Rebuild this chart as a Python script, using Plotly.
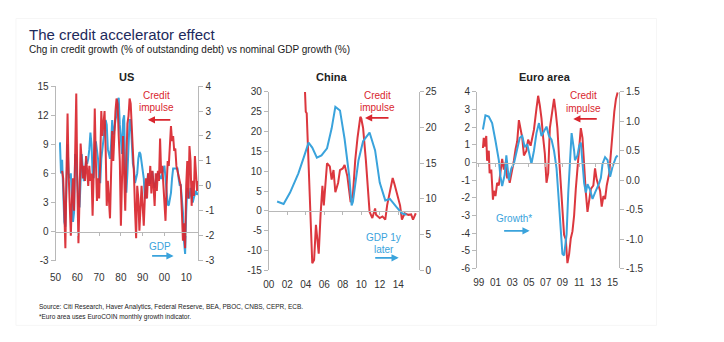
import plotly.graph_objects as go

# ---------------- DATA ----------------
# US: nominal GDP growth (left axis, %), credit impulse (right axis)
us_gdp_x = [1952.0 + 0.5 * i for i in range(128)]
us_gdp_y = [9.2, 6.0, 7.4, 5.0, 1.0, 0.5, 6.5, 9.0, 6.0, 5.5, 6.0, 4.0, 1.0, 2.0, 8.0, 7.5,
            5.5, 3.0, 2.5, 6.0, 8.0, 6.5, 5.2, 6.0, 7.3, 7.0, 7.5, 8.5, 10.2, 9.0, 6.0, 5.5,
            8.5, 9.3, 8.5, 7.5, 5.5, 5.0, 7.5, 8.5, 9.0, 10.0, 11.5, 11.0, 8.5, 8.0, 7.5, 9.0,
            11.5, 10.0, 10.5, 11.5, 12.0, 13.5, 13.8, 11.0, 9.5, 8.0, 11.5, 12.0, 6.0, 4.0, 6.0, 9.5,
            11.5, 11.5, 8.5, 7.0, 6.5, 5.0, 5.5, 6.0, 7.5, 8.2, 8.0, 7.0, 6.0, 5.5, 3.5, 3.5,
            5.0, 6.0, 5.0, 5.0, 5.8, 6.2, 5.0, 4.5, 5.0, 5.8, 6.0, 6.0, 5.5, 5.5, 6.0, 6.5,
            6.8, 5.5, 4.0, 2.8, 2.7, 3.5, 4.0, 5.5, 6.5, 6.5, 6.5, 6.5, 6.5, 5.5, 4.8, 4.8,
            3.5, 2.0, -1.0, -2.3, 2.0, 4.5, 3.5, 3.5, 4.5, 3.5, 3.0, 3.5, 3.8, 4.2, 3.8, 4.0]
us_ci_x = [1953.0 + 0.5 * i for i in range(126)]
us_ci_y = [0.6, 0.3, -1.0, -2.5, 0.5, 2.9, 0.5, -1.0, -2.0, -0.5, 0.3, -1.0, 1.5, 3.7, 0.0, -2.3,
           -0.5, 1.7, 1.0, 0.3, 0.8, 0.2, 1.2, 0.5, 0.0, 0.8, 0.2, 0.5, -1.2, 0.5, 3.1, 1.0,
           -0.6, 0.3, -0.5, 1.0, 3.0, 2.0, 2.5, 3.0, 1.5, -0.8, 0.2, -0.9, -1.3, 0.5, 2.2, 1.0,
           2.5, 3.0, 3.5, 3.3, 2.0, 1.0, -1.6, 0.5, 2.0, 0.5, -1.0, 1.0, 2.5, 2.8, 3.5, 3.3,
           2.5, 1.5, 0.5, -1.0, -2.1, 0.0, -0.5, -1.8, -0.5, 0.0, -0.8, -1.6, -0.5, 0.3, -0.5, 0.5,
           0.0, 0.8, -0.3, 0.6, 0.0, -0.8, 0.5, -0.2, 0.6, 0.2, 1.9, 0.5, 0.8, 0.0, -0.6, -1.4,
           0.0, 1.0, 0.8, 1.5, 2.4, 1.8, 2.0, 1.4, 1.5, 0.8, 0.6, 0.5, 0.3, 0.0, -1.0, -2.2,
           -1.5, -2.5, 0.0, 1.0, -0.5, 1.6, 1.0, -0.8, 0.2, -0.4, 1.2, 0.5, -0.2, 0.2]

# China: credit impulse (left axis), GDP growth 1y later (right axis)
cn_ci_x = [2003.9, 2004.0, 2004.1, 2004.3, 2004.5, 2004.7, 2004.9, 2005.1, 2005.3, 2005.4,
           2005.6, 2005.8, 2005.95, 2006.1, 2006.3, 2006.6, 2006.8, 2007.0, 2007.2, 2007.5,
           2007.7, 2008.0, 2008.2, 2008.5, 2008.7, 2008.85, 2009.1, 2009.35, 2009.6, 2009.9,
           2010.0, 2010.2, 2010.5, 2010.7, 2010.9, 2011.2, 2011.5, 2011.6, 2012.0, 2012.3,
           2012.6, 2012.8, 2013.1, 2013.4, 2013.6, 2013.9, 2014.2, 2014.4, 2014.7, 2015.1,
           2015.4, 2015.6, 2015.9]
cn_ci_y = [31.0, 25.0, 24.6, 12.8, 0.6, -13.2, -12.4, -3.5, -8.3, -10.8,
           -1.0, 6.3, 1.4, 6.3, 12.0, 11.2, 7.9, 10.3, 4.7, 7.1,
           10.3, 10.7, 11.6, 8.7, 4.7, 2.2, 4.2, 12.8, 18.5, 23.7,
           23.3, 20.9, 12.8, 4.7, -0.2, -1.8, 0.6, -1.0, -1.8, -1.4,
           -2.2, 1.4, 4.7, 8.3, 6.7, 4.2, 1.4, -2.2, -0.6, -1.0,
           -0.9, -2.2, -0.6]
cn_gdp_x = [2000.9, 2001.6, 2002.3, 2003.2, 2003.8, 2004.3, 2004.7, 2005.2, 2005.7, 2006.3,
            2006.8, 2007.2, 2007.7, 2008.2, 2008.7, 2008.96, 2009.1, 2009.7, 2010.2, 2010.9,
            2011.5, 2012.0, 2012.6, 2013.1, 2013.8, 2014.4, 2014.9]
cn_gdp_y = [9.65, 9.3, 10.9, 13.6, 15.9, 17.9, 17.2, 15.8, 16.1, 17.1,
            19.9, 22.9, 22.4, 18.4, 13.2, 9.1, 9.6, 15.4, 18.1, 19.3,
            16.8, 12.3, 9.8, 10.0, 8.9, 8.0, 7.8]

# Euro area: credit impulse (left axis), EuroCOIN growth (right axis)
eu_ci_x = [1999.5, 1999.6, 1999.7, 1999.9, 2000.0, 2000.2, 2000.3, 2000.5, 2000.7, 2000.8,
           2001.0, 2001.2, 2001.4, 2001.6, 2001.8, 2002.0, 2002.2, 2002.4, 2002.5, 2002.7,
           2002.9, 2003.2, 2003.4, 2003.6, 2003.8, 2004.0, 2004.2, 2004.4, 2004.7, 2004.9,
           2005.2, 2005.4, 2005.6, 2005.9, 2006.1, 2006.3, 2006.5, 2006.7, 2006.9, 2007.1,
           2007.3, 2007.5, 2007.8, 2008.0, 2008.2, 2008.4, 2008.6, 2008.8, 2009.0, 2009.2,
           2009.4, 2009.6, 2009.8, 2010.0, 2010.2, 2010.4, 2010.6, 2010.8, 2011.0, 2011.2,
           2011.4, 2011.6, 2011.8, 2012.0, 2012.2, 2012.4, 2012.7, 2012.9, 2013.1, 2013.3,
           2013.5, 2013.7, 2013.9, 2014.1, 2014.3, 2014.6, 2014.8, 2015.0, 2015.2, 2015.4,
           2015.6]
eu_ci_y = [0.82, 1.4, 0.9, 1.5, 0.1, 0.67, -0.6, -0.4, -2.1, -1.6,
           -1.9, -1.15, -1.3, -0.4, 0.2, -0.4, 0.0, -0.9, -0.6, -1.15,
           -0.7, 0.1, 0.76, 1.2, 2.4, 1.77, 1.4, 0.4, 0.67, 1.3,
           0.95, 1.4, 1.86, 3.05, 3.78, 3.23, 2.5, 1.4, 0.5, -1.15,
           -0.6, 1.95, 3.05, 3.6, 2.87, 1.95, 0.3, -1.3, -2.8, -4.1,
           -4.35, -5.7, -5.2, -4.3, -3.9, -3.0, -1.5, -0.24, 0.86, 1.95,
           1.4, -0.4, -1.7, -2.8, -2.07, -1.5, -1.3, -0.33, -0.97, -1.3,
           -1.6, -2.5, -1.9, -2.07, -1.3, -0.6, 0.67, 1.95, 2.87, 3.6,
           3.96]
eu_gr_x = [1999.5, 1999.8, 2000.2, 2000.6, 2001.0, 2001.4, 2001.6, 2001.8, 2002.1, 2002.3,
           2002.6, 2002.9, 2003.2, 2003.5, 2003.9, 2004.2, 2004.5, 2004.8, 2005.1, 2005.3,
           2005.6, 2005.9, 2006.2, 2006.5, 2006.8, 2007.1, 2007.4, 2007.7, 2008.0, 2008.3,
           2008.5, 2008.8, 2009.0, 2009.2, 2009.5, 2009.7, 2010.0, 2010.1, 2010.4, 2010.5,
           2010.8, 2011.0, 2011.2, 2011.4, 2011.6, 2011.8, 2012.0, 2012.3, 2012.6, 2012.9,
           2013.2, 2013.4, 2013.6, 2013.8, 2014.1, 2014.4, 2014.7, 2015.0, 2015.4, 2015.6]
eu_gr_y = [0.86, 1.1, 1.08, 0.97, 0.67, 0.34, 0.06, -0.1, 0.09, 0.42,
           0.0, 0.2, 0.28, 0.45, 0.72, 0.75, 0.56, 0.61, 0.42, 0.28,
           0.5, 0.8, 0.97, 0.75, 0.83, 0.91, 0.75, 0.69, 0.5, 0.2,
           -0.21, -0.76, -1.25, -1.28, -0.92, -0.21, 0.64, 0.8, 0.5, 0.34,
           0.42, 0.58, 0.64, 0.34, -0.05, -0.21, -0.07, -0.16, -0.32, -0.21,
           -0.13, -0.05, 0.04, 0.28, 0.39, 0.34, 0.06, 0.23, 0.39, 0.42]

# Tick labels
us_x_ticks = [1950, 1960, 1970, 1980, 1990, 2000, 2010]
us_x_text = ["50", "60", "70", "80", "90", "00", "10"]
us_l_ticks = [-3, 0, 3, 6, 9, 12, 15]
us_r_ticks = [-3, -2, -1, 0, 1, 2, 3, 4]
cn_x_ticks = [2000, 2002, 2004, 2006, 2008, 2010, 2012, 2014]
cn_x_text = ["00", "02", "04", "06", "08", "10", "12", "14"]
cn_l_ticks = [-15, -10, -5, 0, 5, 10, 15, 20, 25, 30]
cn_r_ticks = [0, 5, 10, 15, 20, 25]
eu_x_ticks = [1999, 2001, 2003, 2005, 2007, 2009, 2011, 2013, 2015]
eu_x_text = ["99", "01", "03", "05", "07", "09", "11", "13", "15"]
eu_l_ticks = [-6, -5, -4, -3, -2, -1, 0, 1, 2, 3, 4]
eu_r_ticks = [-1.5, -1.0, -0.5, 0.0, 0.5, 1.0, 1.5]

# ---------------- STYLE / LAYOUT ----------------
W, H = 724, 342
RED = "#d9262e"
BLUE = "#3aa3dc"
AXC = "#b8b8b8"
TXT = "#333333"
FONT = "Liberation Sans, Arial, sans-serif"


def px_x(a, b):
    return [a / W, b / W]


def px_y(top, bottom):
    return [1 - bottom / H, 1 - top / H]


def fmt(v):
    s = ("%g" % v) if isinstance(v, int) else ("%.1f" % v)
    return s


fig = go.Figure()

panels = [
    dict(n=1, xp=(50, 194), yp=(83, 264), xr=[1950, 2015.6], xt=us_x_ticks, xx=us_x_text,
         lr=[-3, 15], lt=us_l_ticks, rr=[-3, 4], rt=us_r_ticks,
         left=(us_gdp_x, us_gdp_y, BLUE), right=(us_ci_x, us_ci_y, RED), red_on_top="right",
         title="US", tx=122, so=9),
    dict(n=2, xp=(265, 416), yp=(89, 274), xr=[2000, 2016.2], xt=cn_x_ticks, xx=cn_x_text,
         lr=[-15, 30], lt=cn_l_ticks, rr=[0, 25], rt=cn_r_ticks,
         left=(cn_ci_x, cn_ci_y, RED), right=(cn_gdp_x, cn_gdp_y, BLUE), red_on_top="left",
         title="China", tx=328, so=7),
    dict(n=3, xp=(475, 618), yp=(89, 272), xr=[1998.8, 2015.75], xt=eu_x_ticks, xx=eu_x_text,
         lr=[-6, 4], lt=eu_l_ticks, rr=[-1.5, 1.5], rt=eu_r_ticks,
         left=(eu_ci_x, eu_ci_y, RED), right=(eu_gr_x, eu_gr_y, BLUE), red_on_top="left",
         title="Euro area", tx=543, so=7),
]

tickfont = dict(family=FONT, size=10, color=TXT)
layout_axes = {}
for p in panels:
    n = p["n"]
    xid = "x" if n == 1 else "x%d" % n
    ly = 2 * n - 1
    ry = 2 * n
    lyid = "y" if ly == 1 else "y%d" % ly
    ryid = "y%d" % ry
    zx = 3 + n  # overlay axis for zero line
    xd = px_x(*p["xp"])
    yd = px_y(*p["yp"])

    lx, lyv, lc = p["left"]
    rx, ryv, rc = p["right"]
    traces = [
        ("left", go.Scatter(x=lx, y=lyv, mode="lines", xaxis=xid, yaxis=lyid,
                            line=dict(color=lc, width=2), opacity=0.92 if lc == RED else 1,
                            showlegend=False, hoverinfo="skip")),
        ("right", go.Scatter(x=rx, y=ryv, mode="lines", xaxis=xid, yaxis=ryid,
                             line=dict(color=rc, width=2), opacity=0.92 if rc == RED else 1,
                             showlegend=False, hoverinfo="skip")),
    ]
    traces.sort(key=lambda t: 1 if t[0] == p["red_on_top"] else 0)
    for _, t in traces:
        fig.add_trace(t)

    xkey = "xaxis" if n == 1 else "xaxis%d" % n
    layout_axes[xkey] = dict(domain=xd, range=p["xr"], anchor=lyid, tickvals=p["xt"],
                             ticktext=p["xx"], showline=False, showgrid=False, zeroline=False,
                             ticks="", tickfont=tickfont, ticklabelstandoff=p["so"])
    lkey = "yaxis" if ly == 1 else "yaxis%d" % ly
    layout_axes[lkey] = dict(domain=yd, range=p["lr"], anchor=xid, side="left",
                             tickvals=p["lt"], ticktext=[fmt(v) for v in p["lt"]],
                             showline=True, linecolor=AXC, linewidth=1, ticks="outside",
                             ticklen=4, tickcolor=AXC, showgrid=False, zeroline=False,
                             tickfont=tickfont)
    layout_axes["yaxis%d" % ry] = dict(domain=yd, range=p["rr"], anchor=xid, side="right",
                                       overlaying=lyid, tickvals=p["rt"],
                                       ticktext=[fmt(v) for v in p["rt"]],
                                       showline=True, linecolor=AXC, linewidth=1,
                                       ticks="outside", ticklen=4, tickcolor=AXC,
                                       showgrid=False, zeroline=False, tickfont=tickfont)
    lo, hi = p["lr"]
    zpos = yd[0] + (0 - lo) / (hi - lo) * (yd[1] - yd[0])
    layout_axes["xaxis%d" % zx] = dict(domain=xd, range=p["xr"], overlaying=xid, anchor="free",
                                       position=zpos, tickvals=p["xt"], showticklabels=False,
                                       showline=True, linecolor=AXC, linewidth=1,
                                       ticks="outside", ticklen=3, tickcolor=AXC,
                                       showgrid=False, zeroline=False)
    fig.add_trace(go.Scatter(x=[p["xr"][0]], y=[0], xaxis="x%d" % zx, yaxis=lyid,
                             mode="markers", marker=dict(opacity=0), showlegend=False,
                             hoverinfo="skip"))

annotations = []


def ann(text, x, y, size=10, color=TXT, bold=False, xanchor="center", yanchor="middle"):
    annotations.append(dict(text=("<b>%s</b>" % text) if bold else text, x=x / W, y=1 - y / H,
                            xref="paper", yref="paper", showarrow=False, xanchor=xanchor,
                            yanchor=yanchor, font=dict(family=FONT, size=size, color=color)))


def arrow(x0, x1, y, color):
    annotations.append(dict(x=x1 / W, y=1 - y / H, ax=x0 - x1, ay=0, xref="paper",
                            yref="paper", axref="pixel", ayref="pixel", text="",
                            showarrow=True, arrowhead=2, arrowsize=0.8, arrowwidth=1.8,
                            arrowcolor=color))


ann("The credit accelerator effect", 21, 30, size=15, color="#1d2a5c", xanchor="left")
ann("Chg in credit growth (% of outstanding debt) vs nominal GDP growth (%)", 21, 45, size=10,
    color="#1a1a1a", xanchor="left")
for p in panels:
    ann(p["title"], p["tx"], 74, size=11, color="#222222", bold=True)

ann("Credit", 152, 93, color=RED)
ann("impulse", 152, 105, color=RED)
arrow(167, 143, 118, RED)
ann("GDP", 155, 249, color=BLUE)
arrow(146, 169, 259, BLUE)
ann("Credit", 375, 93, color=RED)
ann("impulse", 375, 105, color=RED)
arrow(387, 362, 116, RED)
ann("GDP 1y", 381, 240, color=BLUE)
ann("later", 381, 252, color=BLUE)
arrow(371, 396, 261, BLUE)
ann("Credit", 582, 93, color=RED)
ann("impulse", 582, 106, color=RED)
arrow(597, 572, 117, RED)
ann("Growth*", 512, 220, color=BLUE)
arrow(501, 528, 233, BLUE)

ann("Source: Citi Research, Haver Analytics, Federal Reserve, BEA, PBOC, CNBS, CEPR, ECB.", 31, 312,
    size=6.5, color="#222222", xanchor="left")
ann("*Euro area uses EuroCOIN monthly growth indicator.", 31, 322, size=6.5, color="#222222",
    xanchor="left")

fig.update_layout(
    width=W, height=H, margin=dict(l=0, r=0, t=0, b=0),
    paper_bgcolor="white", plot_bgcolor="rgba(0,0,0,0)",
    annotations=annotations,
    shapes=[dict(type="rect", xref="paper", yref="paper", x0=10 / W, x1=656 / W,
                 y0=1 - 331 / H, y1=1 - 13 / H, line=dict(color="#f6f6f6", width=1),
                 fillcolor="rgba(0,0,0,0)", layer="below")],
    **layout_axes,
)

fig.write_html("out.html")
